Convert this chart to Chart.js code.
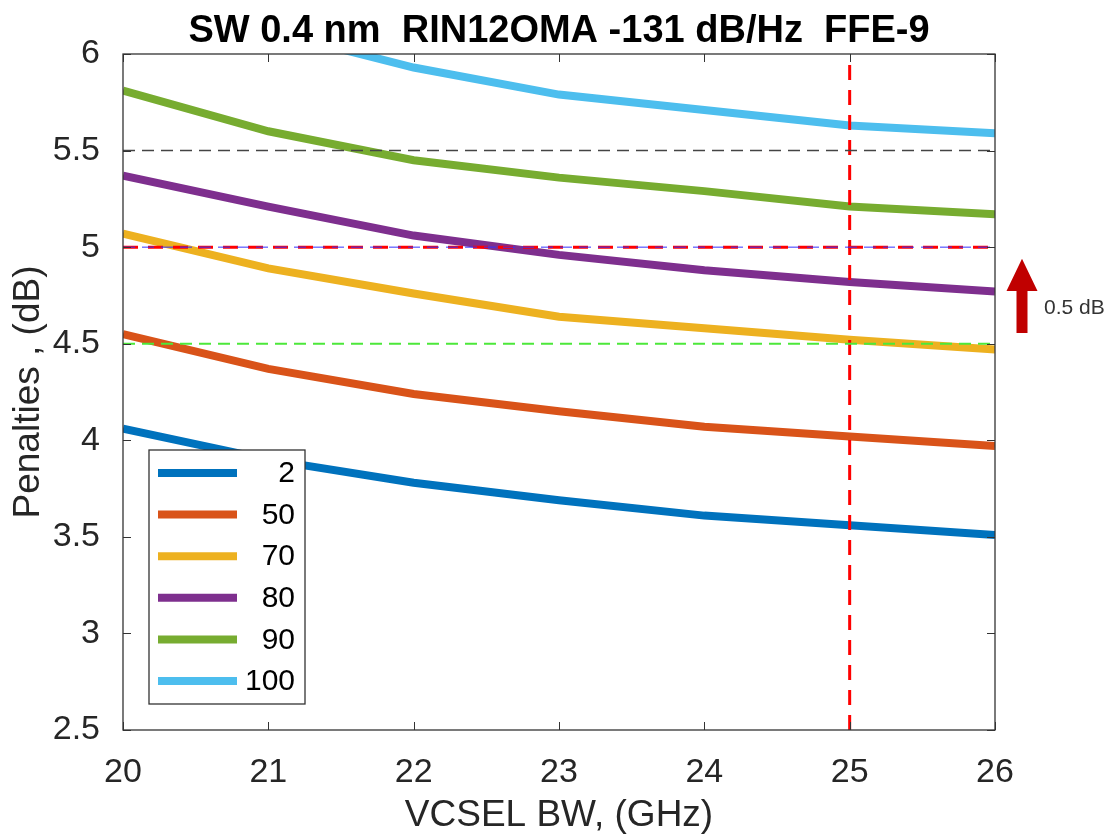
<!DOCTYPE html>
<html>
<head>
<meta charset="utf-8">
<script src="https://cdn.jsdelivr.net/npm/chart.js@4/dist/chart.umd.min.js"></script>
<style>
  html, body { margin: 0; padding: 0; background: #fff; }
</style>
</head>
<body>
<canvas id="penaltyChart" width="1109" height="836"></canvas>
<script>
// VCSEL bandwidth (GHz) on the x axis
const bandwidth = [20, 21, 22, 23, 24, 25, 26];

// legend labels and MATLAB default colours
const seriesNames = ['2', '50', '70', '80', '90', '100'];
const seriesColors = ['#0072BD', '#D95319', '#EDB120', '#7E2F8E', '#77AC30', '#4DBEEE'];

// penalties (dB), one array per series
const pen2   = [4.06, 3.90, 3.78, 3.69, 3.61, 3.56, 3.51];
const pen50  = [4.55, 4.37, 4.24, 4.15, 4.07, 4.02, 3.97];
const pen70  = [5.07, 4.89, 4.76, 4.64, 4.58, 4.52, 4.47];
const pen80  = [5.37, 5.21, 5.06, 4.96, 4.88, 4.82, 4.77];
const pen90  = [5.81, 5.60, 5.45, 5.36, 5.29, 5.21, 5.17];
const pen100 = [null, 6.12, 5.93, 5.79, 5.71, 5.63, 5.59];
const allSeries = [pen2, pen50, pen70, pen80, pen90, pen100];

// reference lines
const xRange = [20, 26];
const limitGray = 5.5;
const limitRed = 5.0;
const limitGreen = 4.5;
const markerBW = 25;
const markerSpan = [2.5, 5.95];

const FONT = "'Liberation Sans', Arial, sans-serif";
const TEXT = '#262626';

const seriesSets = allSeries.map((vals, i) => ({
  label: seriesNames[i],
  data: bandwidth.map((x, j) => ({ x, y: vals[j] })),
  borderColor: seriesColors[i],
  backgroundColor: seriesColors[i],
  borderWidth: 8,
  pointRadius: 0,
  tension: 0,
  clip: 0,
  order: 1
}));

const hLine = (y, color, width, dash) => ({
  label: '_ref',
  data: xRange.map(x => ({ x, y })),
  borderColor: color,
  borderWidth: width,
  borderDash: dash,
  pointRadius: 0,
  clip: 0,
  order: 0
});

const refSets = [
  hLine(limitGray, '#444444', 1.5, [12, 7]),
  hLine(limitGreen, '#4CE83A', 2, [12, 7]),
  hLine(limitRed, '#3333FF', 1, [12, 7]),
  hLine(limitRed, '#FF0000', 3, [15, 10]),
  {
    label: '_ref',
    data: markerSpan.map(y => ({ x: markerBW, y })),
    borderColor: '#FF0000',
    borderWidth: 3,
    borderDash: [15, 10],
    pointRadius: 0,
    clip: 0,
    order: 0
  }
];

// axes box with inward ticks, MATLAB style
const framePlugin = {
  id: 'frame',
  afterDatasetsDraw(chart) {
    const { ctx, chartArea: a, scales: { x, y } } = chart;
    ctx.save();
    ctx.strokeStyle = '#333';
    ctx.lineWidth = 1.3;
    ctx.strokeRect(a.left, a.top, a.right - a.left, a.bottom - a.top);
    ctx.lineWidth = 1;
    ctx.beginPath();
    x.ticks.forEach(t => {
      const px = Math.round(x.getPixelForValue(t.value)) + 0.5;
      ctx.moveTo(px, a.bottom); ctx.lineTo(px, a.bottom - 8);
      ctx.moveTo(px, a.top); ctx.lineTo(px, a.top + 8);
    });
    y.ticks.forEach(t => {
      const py = Math.round(y.getPixelForValue(t.value)) + 0.5;
      ctx.moveTo(a.left, py); ctx.lineTo(a.left + 8, py);
      ctx.moveTo(a.right, py); ctx.lineTo(a.right - 8, py);
    });
    ctx.stroke();
    ctx.restore();
  }
};

// legend box in the lower left of the plot
const legendPlugin = {
  id: 'boxLegend',
  afterDraw(chart) {
    const { ctx, chartArea: a } = chart;
    const left = a.left + 26, top = 450, w = 156, h = 254;
    ctx.save();
    ctx.fillStyle = '#fff';
    ctx.fillRect(left, top, w, h);
    ctx.strokeStyle = '#333';
    ctx.lineWidth = 1.3;
    ctx.strokeRect(left, top, w, h);
    ctx.font = `30px ${FONT}`;
    ctx.textAlign = 'right';
    ctx.textBaseline = 'middle';
    seriesNames.forEach((name, i) => {
      const cy = top + 23 + i * 41.6;
      ctx.strokeStyle = seriesColors[i];
      ctx.lineWidth = 8;
      ctx.beginPath();
      ctx.moveTo(left + 9, cy);
      ctx.lineTo(left + 88, cy);
      ctx.stroke();
      ctx.fillStyle = '#000';
      ctx.fillText(name, left + 146, cy + 1);
    });
    ctx.restore();
  }
};

// title centred over the plot area
const titlePlugin = {
  id: 'plotTitle',
  afterDraw(chart) {
    const { ctx, chartArea: a } = chart;
    ctx.save();
    ctx.font = `bold 38px ${FONT}`;
    ctx.fillStyle = '#000';
    ctx.textAlign = 'center';
    ctx.textBaseline = 'alphabetic';
    ctx.fillText('SW 0.4 nm  RIN12OMA -131 dB/Hz  FFE-9', (a.left + a.right) / 2, 42);
    ctx.restore();
  }
};

// red arrow + "0.5 dB" note right of the plot
const arrowPlugin = {
  id: 'arrowNote',
  afterDraw(chart) {
    const { ctx, chartArea: a, scales: { y } } = chart;
    const cx = a.right + 27;
    const tip = y.getPixelForValue(4.94);
    const base = y.getPixelForValue(4.773);
    const tail = y.getPixelForValue(4.555);
    ctx.save();
    ctx.fillStyle = '#C00000';
    ctx.beginPath();
    ctx.moveTo(cx, tip);
    ctx.lineTo(cx + 15.5, base);
    ctx.lineTo(cx + 5.5, base);
    ctx.lineTo(cx + 5.5, tail);
    ctx.lineTo(cx - 5.5, tail);
    ctx.lineTo(cx - 5.5, base);
    ctx.lineTo(cx - 15.5, base);
    ctx.closePath();
    ctx.fill();
    ctx.fillStyle = '#333';
    ctx.font = `21px ${FONT}`;
    ctx.textAlign = 'left';
    ctx.textBaseline = 'middle';
    ctx.fillText('0.5 dB', cx + 22, y.getPixelForValue(4.685));
    ctx.restore();
  }
};

new Chart(document.getElementById('penaltyChart'), {
  type: 'line',
  data: { datasets: [...refSets, ...seriesSets] },
  options: {
    responsive: false,
    animation: false,
    layout: { padding: { top: 54, right: 114, left: 0, bottom: 0 } },
    plugins: {
      legend: { display: false },
      tooltip: { enabled: false }
    },
    scales: {
      x: {
        type: 'linear',
        min: 20,
        max: 26,
        grid: { display: false },
        border: { display: false },
        ticks: { stepSize: 1, padding: 14, color: TEXT, font: { family: FONT, size: 34 }, maxRotation: 0 },
        title: {
          display: true,
          text: 'VCSEL BW, (GHz)',
          color: TEXT,
          font: { family: FONT, size: 37, lineHeight: 1 },
          padding: { top: 0, bottom: 1.5 }
        },
        afterFit: s => { s.height = 106; }
      },
      y: {
        min: 2.5,
        max: 6,
        grid: { display: false },
        border: { display: false },
        ticks: {
          stepSize: 0.5,
          padding: 15,
          color: TEXT,
          font: { family: FONT, size: 34 },
          callback: v => String(Math.round(v * 10) / 10)
        },
        title: {
          display: true,
          text: 'Penalties , (dB)',
          color: TEXT,
          font: { family: FONT, size: 37, lineHeight: 1 },
          padding: { top: 10.5, bottom: 0 }
        },
        afterFit: s => { s.width = 123; }
      }
    }
  },
  plugins: [framePlugin, legendPlugin, titlePlugin, arrowPlugin]
});
</script>
</body>
</html>
